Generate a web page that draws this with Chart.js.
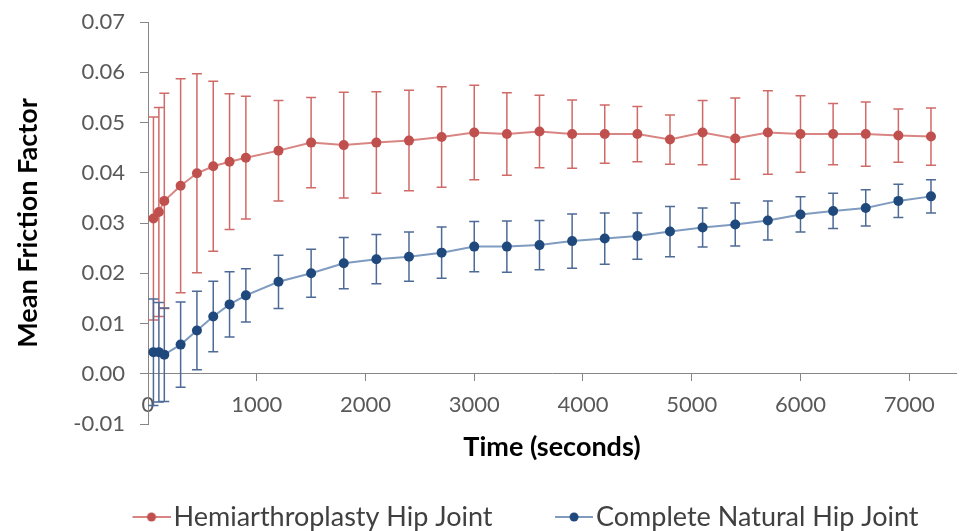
<!DOCTYPE html>
<html><head><meta charset="utf-8">
<script src="https://cdn.jsdelivr.net/npm/chart.js@4.4.1/dist/chart.umd.min.js"></script>
<style>html,body{margin:0;padding:0;background:#fff}#wrap{width:961px;height:531px;position:relative;overflow:hidden}</style>
</head><body><div id="wrap"><canvas id="c"></canvas></div>
<script>
// ---- data ----
const timeSeconds = [50,100,150,300,450,600,750,900,1200,1500,1800,2100,2400,2700,3000,3300,3600,3900,4200,4500,4800,5100,5400,5700,6000,6300,6600,6900,7200];
const hemiMean = [0.0309,0.0322,0.0344,0.0374,0.0399,0.0413,0.0422,0.0430,0.0444,0.0460,0.0455,0.0460,0.0464,0.0471,0.0480,0.0477,0.0482,0.0477,0.0477,0.0477,0.0466,0.0480,0.0468,0.0480,0.0477,0.0477,0.0477,0.0474,0.0472];
const hemiSD = [0.0202,0.0208,0.0214,0.0213,0.0198,0.0169,0.0135,0.0122,0.0100,0.0090,0.0105,0.0101,0.0100,0.0100,0.0094,0.0082,0.0072,0.0068,0.0058,0.0055,0.0049,0.0064,0.0081,0.0083,0.0076,0.0061,0.0064,0.0053,0.0057];
const naturalMean = [0.0043,0.0043,0.0038,0.0058,0.0086,0.0114,0.0138,0.0156,0.0183,0.0200,0.0220,0.0228,0.0233,0.0241,0.0253,0.0253,0.0256,0.0264,0.0269,0.0274,0.0283,0.0291,0.0297,0.0305,0.0317,0.0324,0.0330,0.0344,0.0353];
const naturalSD = [0.0106,0.0099,0.0093,0.0085,0.0078,0.0070,0.0065,0.0053,0.0053,0.0048,0.0051,0.0049,0.0049,0.0051,0.0050,0.0051,0.0049,0.0054,0.0051,0.0046,0.0050,0.0039,0.0043,0.0039,0.0035,0.0035,0.0036,0.0033,0.0033];
const seriesNames = ['Hemiarthroplasty Hip Joint','Complete Natural Hip Joint'];
const xTickValues = [0,1000,2000,3000,4000,5000,6000,7000];
const yTickValues = [-0.01,0,0.01,0.02,0.03,0.04,0.05,0.06,0.07];
const xAxisTitle = 'Time (seconds)';
const yAxisTitle = 'Mean Friction Factor';

// ---- style ----
const FONT = 'Lato, "Open Sans", sans-serif';
const AXIS = '#868686';
const RED = '#C0504D', RED_LINE = '#D98583', RED_ERR = '#D06A67';
const BLUE = '#1F497D', BLUE_LINE = '#7F9BC0', BLUE_ERR = '#4E6A96';

// legend swatch: line with a dot, placed at the right of a wider transparent box
function legendIcon(lineColor, dotColor){
  const c = document.createElement('canvas');
  c.width = 101; c.height = 12;
  const g = c.getContext('2d');
  g.strokeStyle = lineColor; g.lineWidth = 2;
  g.beginPath(); g.moveTo(63,6); g.lineTo(101,6); g.stroke();
  g.fillStyle = dotColor; g.beginPath(); g.arc(82,6,4.5,0,Math.PI*2); g.fill();
  return c;
}

const errorBars = {
  id: 'errorBars',
  beforeDatasetsDraw(chart){
    const {ctx, scales} = chart;
    const x = scales.x, y = scales.y;
    chart.data.datasets.forEach((ds, i) => {
      if (!chart.isDatasetVisible(i)) return;
      ctx.save();
      ctx.strokeStyle = ds.errorColor;
      ctx.lineWidth = 1.5;
      ds.data.forEach((pt, j) => {
        const sd = ds.errors[j];
        const px = x.getPixelForValue(pt.x);
        const yt = y.getPixelForValue(pt.y + sd);
        const yb = y.getPixelForValue(pt.y - sd);
        ctx.beginPath();
        ctx.moveTo(px, yt); ctx.lineTo(px, yb);
        ctx.moveTo(px - 5, yt); ctx.lineTo(px + 5, yt);
        ctx.moveTo(px - 5, yb); ctx.lineTo(px + 5, yb);
        ctx.stroke();
      });
      ctx.restore();
    });
  }
};

const legendShift = {
  id: 'legendShift',
  afterLayout(chart){ if (chart.legend) chart.legend.left = 70; }
};

const icons = [legendIcon(RED_LINE, RED), legendIcon(BLUE_LINE, BLUE)];

new Chart(document.getElementById('c'), {
  type: 'line',
  data: {
    datasets: [
      {
        label: seriesNames[0],
        data: timeSeconds.map((t, i) => ({x: t, y: hemiMean[i]})),
        errors: hemiSD, errorColor: RED_ERR,
        borderColor: RED_LINE, borderWidth: 2,
        pointRadius: 5, pointBorderWidth: 0,
        pointBackgroundColor: RED, pointBorderColor: RED,
        backgroundColor: RED, tension: 0
      },
      {
        label: seriesNames[1],
        data: timeSeconds.map((t, i) => ({x: t, y: naturalMean[i]})),
        errors: naturalSD, errorColor: BLUE_ERR,
        borderColor: BLUE_LINE, borderWidth: 2,
        pointRadius: 5, pointBorderWidth: 0,
        pointBackgroundColor: BLUE, pointBorderColor: BLUE,
        backgroundColor: BLUE, tension: 0
      }
    ]
  },
  options: {
    responsive: true,
    maintainAspectRatio: false,
    animation: false,
    devicePixelRatio: 1,
    layout: { padding: { left: 8, top: 22, right: 0, bottom: -9.5 } },
    plugins: {
      tooltip: { enabled: false },
      legend: {
        position: 'bottom',
        align: 'start',
        labels: {
          usePointStyle: true,
          pointStyleWidth: 80,
          padding: 10,
          color: '#404040',
          font: { family: FONT, size: 27 },
          generateLabels(chart){
            return chart.data.datasets.map((ds, i) => ({
              text: ds.label, pointStyle: icons[i], fillStyle: ds.backgroundColor,
              strokeStyle: ds.borderColor, lineWidth: 0, fontColor: '#404040',
              hidden: !chart.isDatasetVisible(i), datasetIndex: i
            }));
          }
        }
      }
    },
    scales: {
      x: {
        type: 'linear',
        position: { y: 0 },
        min: 0, max: 7430,
        afterBuildTicks(scale){ scale.ticks = xTickValues.map(v => ({value: v})); },
        afterFit(scale){ scale.paddingLeft = 0; scale.paddingRight = 0; },
        ticks: { color: '#595959', font: { family: FONT, size: 22 }, padding: 11, maxRotation: 0, callback: v => String(v) },
        grid: { drawOnChartArea: false, drawTicks: true, tickLength: 7, color: AXIS },
        border: { display: true, color: AXIS, width: 1 }
      },
      xTitle: {
        type: 'linear',
        position: 'bottom',
        min: 0, max: 7430,
        ticks: { display: false },
        grid: { display: false, drawTicks: false },
        border: { display: false },
        title: { display: true, text: xAxisTitle, color: '#000', font: { family: FONT, size: 27, weight: 'bold' }, padding: { top: 6.8, bottom: 30.3 } }
      },
      y: {
        type: 'linear',
        position: 'left',
        min: -0.01, max: 0.07,
        afterBuildTicks(scale){ scale.ticks = yTickValues.map(v => ({value: v})); },
        afterFit(scale){ scale.width = 140; scale.paddingTop = 0; scale.paddingBottom = 0; },
        ticks: { color: '#595959', font: { family: FONT, size: 22 }, padding: 15, callback: v => Number(v).toFixed(2) },
        grid: { drawOnChartArea: false, drawTicks: true, tickLength: 8, color: AXIS },
        border: { display: true, color: AXIS, width: 1 },
        title: { display: true, text: yAxisTitle, color: '#000', font: { family: FONT, size: 27, weight: 'bold' }, padding: { top: 4, bottom: 0 } }
      }
    }
  },
  plugins: [errorBars, legendShift]
});
</script>
</body></html>
